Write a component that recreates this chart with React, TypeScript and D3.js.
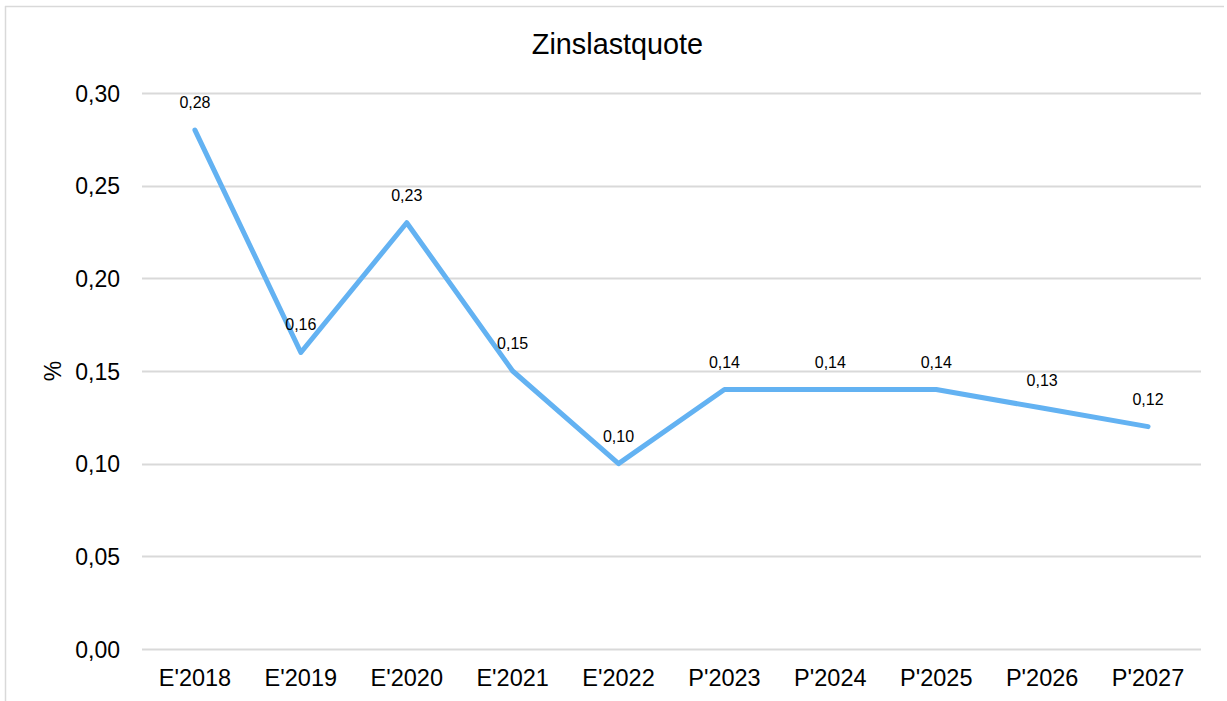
import React from "react";
import * as d3 from "d3";

const categories = ["E'2018", "E'2019", "E'2020", "E'2021", "E'2022", "P'2023", "P'2024", "P'2025", "P'2026", "P'2027"];
const values = [0.28, 0.16, 0.23, 0.15, 0.1, 0.14, 0.14, 0.14, 0.13, 0.12];
const yTicks = [0, 0.05, 0.1, 0.15, 0.2, 0.25, 0.3];
const title = "Zinslastquote";
const yLabel = "%";

const W = 1227;
const H = 701;
const left = 142;
const right = 1201;
const top = 93;
const bottom = 649;

const fmt = (v: number) => v.toFixed(2).replace(".", ",");

export default function App() {
  const x = d3.scaleBand<string>().domain(categories).range([left, right]).padding(0);
  const y = d3.scaleLinear().domain([0, 0.3]).range([bottom, top]);
  const cx = (c: string) => (x(c) as number) + x.bandwidth() / 2;
  const line = d3
    .line<number>()
    .x((_, i) => cx(categories[i]))
    .y((d) => y(d));
  const font = "Arial, 'Liberation Sans', sans-serif";
  return (
    <svg width={W} height={H} style={{ position: "absolute", left: 0, top: 0, background: "#fff" }} fontFamily={font}>
      <rect x={0} y={0} width={W} height={H} fill="#fff" />
      <line x1={5.5} y1={6} x2={5.5} y2={H} stroke="#d9d9d9" strokeWidth={1.5} />
      <line x1={5} y1={6.5} x2={1224} y2={6.5} stroke="#d9d9d9" strokeWidth={1.5} />
      <text x={617.5} y={54} textAnchor="middle" fontSize={28.8} fill="#000">
        {title}
      </text>
      {yTicks.map((t) => (
        <g key={t}>
          <line x1={left} x2={right} y1={Math.round(y(t)) + 0.5} y2={Math.round(y(t)) + 0.5} stroke="#d9d9d9" strokeWidth={2} />
          <text x={120} y={y(t) + 8.5} textAnchor="end" fontSize={23} fill="#000">
            {fmt(t)}
          </text>
        </g>
      ))}
      <text transform={`translate(61, 371) rotate(-90)`} textAnchor="middle" fontSize={23} fill="#000">
        {yLabel}
      </text>
      {categories.map((c) => (
        <text key={c} x={cx(c)} y={686} textAnchor="middle" fontSize={23.5} fill="#000">
          {c}
        </text>
      ))}
      <path d={line(values) || ""} fill="none" stroke="#63b2f2" strokeWidth={5} strokeLinejoin="round" strokeLinecap="round" />
      {values.map((v, i) => (
        <text key={i} x={cx(categories[i])} y={y(v) - 22} textAnchor="middle" fontSize={16} fill="#000">
          {fmt(v)}
        </text>
      ))}
    </svg>
  );
}
